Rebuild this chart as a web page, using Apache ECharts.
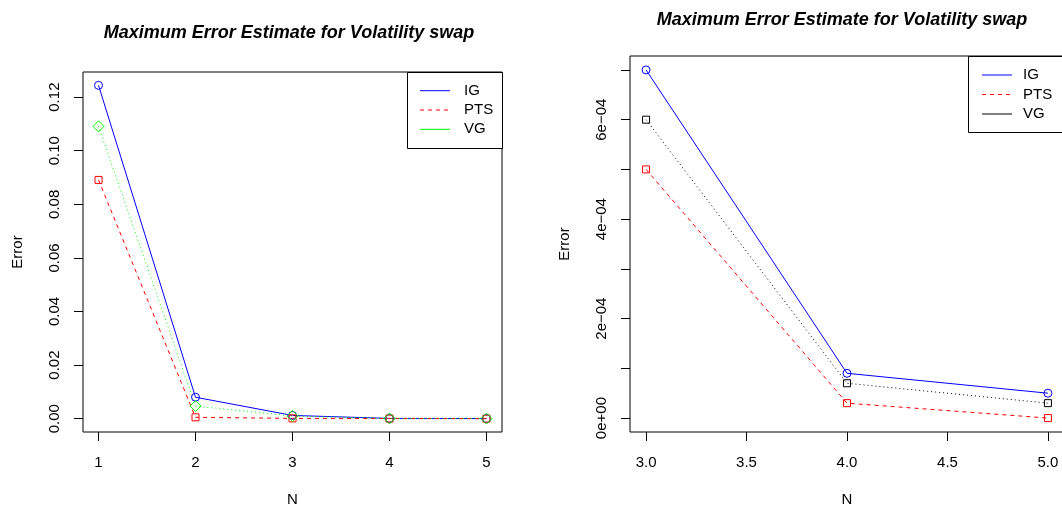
<!DOCTYPE html>
<html>
<head>
<meta charset="utf-8">
<script src="https://cdn.jsdelivr.net/npm/echarts@6/dist/echarts.min.js"></script>
<style>
html,body{margin:0;padding:0;background:#fff;}
#chart{width:1062px;height:508px;}
</style>
</head>
<body>
<div id="chart"></div>
<script>
// ---- data ----
const titleText = 'Maximum Error Estimate for Volatility swap';
const seriesNames = ['IG', 'PTS', 'VG'];

// left panel
const leftN = [1, 2, 3, 4, 5];
const leftIG = [0.1244, 0.0080, 0.0012, 0.0001, 0.00005];
const leftPTS = [0.0891, 0.0005, 0.0001, 0.00003, 0.0];
const leftVG = [0.1091, 0.0047, 0.0010, 0.00007, 0.00003];
const leftXTicks = [1, 2, 3, 4, 5];
const leftYTicks = [0, 0.02, 0.04, 0.06, 0.08, 0.10, 0.12];

// right panel
const rightN = [3, 4, 5];
const rightIG = [7e-4, 9e-5, 5e-5];
const rightPTS = [5e-4, 3e-5, 0];
const rightVG = [6e-4, 7e-5, 3e-5];
const rightXTicks = [3.0, 3.5, 4.0, 4.5, 5.0];
const rightYTicks = [0, 1e-4, 2e-4, 3e-4, 4e-4, 5e-4, 6e-4, 7e-4];
const rightYLabels = [0, 2e-4, 4e-4, 6e-4];

// ---- helpers ----
function pad4(arr) { // R-style 4% range expansion
  const mn = Math.min(...arr), mx = Math.max(...arr), r = mx - mn;
  return [mn - 0.04 * r, mx + 0.04 * r];
}
function rExp(v) {
  if (Math.abs(v) < 1e-15) return '0e+00';
  const parts = v.toExponential(0).split('e');
  const e = parseInt(parts[1], 10);
  return parts[0] + 'e' + (e < 0 ? '\u2212' : '+') + String(Math.abs(e)).padStart(2, '0');
}
const pairs = (xs, ys) => xs.map((x, i) => [x, ys[i]]);

const FONT = '"Liberation Sans", Arial, Helvetica, sans-serif';
const BLUE = '#0000ff', RED = '#ff0000', GREEN = '#00ff00', BLACK = '#000000';
const DASH = [4, 4], DOT = [1, 3];

const lx = pad4(leftN), ly = pad4([...leftIG, ...leftPTS, ...leftVG]);
const rx = pad4(rightN), ry = pad4([...rightIG, ...rightPTS, ...rightVG]);

function xAxisCfg(idx, range, ticks, fmt) {
  return {
    type: 'value', gridIndex: idx, min: range[0], max: range[1],
    name: 'N', nameLocation: 'middle', nameGap: 60,
    nameTextStyle: { fontSize: 15, color: BLACK, fontFamily: FONT, lineHeight: 15 },
    axisLine: { show: false, onZero: false },
    axisTick: { show: true, inside: false, length: 9, customValues: ticks, lineStyle: { color: BLACK, width: 1 } },
    axisLabel: { customValues: ticks, formatter: fmt, fontSize: 15, color: BLACK, fontFamily: FONT, margin: 23, lineHeight: 15 },
    splitLine: { show: false }
  };
}
function yAxisCfg(idx, range, ticks, labels, fmt) {
  return {
    type: 'value', gridIndex: idx, min: range[0], max: range[1],
    name: 'Error', nameLocation: 'middle', nameGap: 58, nameRotate: 90,
    nameTextStyle: { fontSize: 15, color: BLACK, fontFamily: FONT, lineHeight: 15 },
    axisLine: { show: false, onZero: false },
    axisTick: { show: true, inside: false, length: 9, customValues: ticks, lineStyle: { color: BLACK, width: 1 } },
    axisLabel: { customValues: labels, formatter: fmt, rotate: 90, fontSize: 15, color: BLACK, fontFamily: FONT, margin: 21, lineHeight: 15 },
    splitLine: { show: false }
  };
}
function lineSeries(name, idx, data, color, type, symbol, size) {
  return {
    name: name, type: 'line', xAxisIndex: idx, yAxisIndex: idx, data: data,
    symbol: symbol, symbolSize: size, showAllSymbol: true,
    lineStyle: { color: color, width: 1, type: type },
    itemStyle: { color: 'rgba(255,255,255,0)', borderColor: color, borderWidth: 1 },
    emphasis: { disabled: true }, silent: true, z: 2
  };
}
// legend box drawn as graphic (R-style legend)
function legendGraphic(box, lineX0, lineX1, textX, rowYs, colors, dashes) {
  const children = [{
    type: 'rect', shape: { x: box.x + 0.5, y: box.y + 0.5, width: box.w, height: box.h },
    style: { fill: '#fff', stroke: BLACK, lineWidth: 1 }, z: 10
  }];
  seriesNames.forEach((nm, i) => {
    children.push({
      type: 'line', shape: { x1: lineX0, y1: rowYs[i], x2: lineX1, y2: rowYs[i] },
      style: { stroke: colors[i], lineWidth: 1, lineDash: dashes[i] }, z: 11
    });
    children.push({
      type: 'text', x: textX, y: rowYs[i],
      style: { text: nm, fill: BLACK, font: '15px ' + FONT, verticalAlign: 'middle', align: 'left' }, z: 11
    });
  });
  return { type: 'group', silent: true, children: children };
}

const chart = echarts.init(document.getElementById('chart'), null, { renderer: 'canvas' });
const option = {
  animation: false,
  backgroundColor: '#ffffff',
  title: [
    { text: titleText, left: 289, top: 24, textAlign: 'center', padding: 0,
      textStyle: { fontSize: 18, fontWeight: 'bold', fontStyle: 'italic', color: BLACK, fontFamily: FONT, lineHeight: 18 } },
    { text: titleText, left: 842, top: 11, textAlign: 'center', padding: 0,
      textStyle: { fontSize: 18, fontWeight: 'bold', fontStyle: 'italic', color: BLACK, fontFamily: FONT, lineHeight: 18 } }
  ],
  grid: [
    { left: 83, top: 72, width: 419, height: 360, show: true, borderColor: BLACK, borderWidth: 1, backgroundColor: 'transparent', containLabel: false, outerBoundsMode: 'none' },
    { left: 630, top: 56, width: 434, height: 376, show: true, borderColor: BLACK, borderWidth: 1, backgroundColor: 'transparent', containLabel: false, outerBoundsMode: 'none' }
  ],
  xAxis: [
    xAxisCfg(0, lx, leftXTicks, v => String(Math.round(v))),
    xAxisCfg(1, rx, rightXTicks, v => v.toFixed(1))
  ],
  yAxis: [
    yAxisCfg(0, ly, leftYTicks, leftYTicks, v => v.toFixed(2)),
    yAxisCfg(1, ry, rightYTicks, rightYLabels, rExp)
  ],
  graphic: [
    legendGraphic({ x: 407, y: 72, w: 95, h: 76 }, 420, 450, 464, [90.7, 110, 129.3],
      [BLUE, RED, GREEN], [null, DASH, null]),
    legendGraphic({ x: 968, y: 56, w: 120, h: 76 }, 982, 1012, 1023, [75, 94.5, 114],
      [BLUE, RED, BLACK], [null, DASH, null])
  ],
  series: [
    lineSeries(seriesNames[0], 0, pairs(leftN, leftIG), BLUE, 'solid', 'circle', 8),
    lineSeries(seriesNames[1], 0, pairs(leftN, leftPTS), RED, DASH, 'rect', 7),
    lineSeries(seriesNames[2], 0, pairs(leftN, leftVG), GREEN, DOT, 'diamond', 11),
    lineSeries(seriesNames[0], 1, pairs(rightN, rightIG), BLUE, 'solid', 'circle', 8),
    lineSeries(seriesNames[1], 1, pairs(rightN, rightPTS), RED, DASH, 'rect', 7),
    lineSeries(seriesNames[2], 1, pairs(rightN, rightVG), BLACK, DOT, 'rect', 7)
  ]
};
chart.setOption(option);
</script>
</body>
</html>
